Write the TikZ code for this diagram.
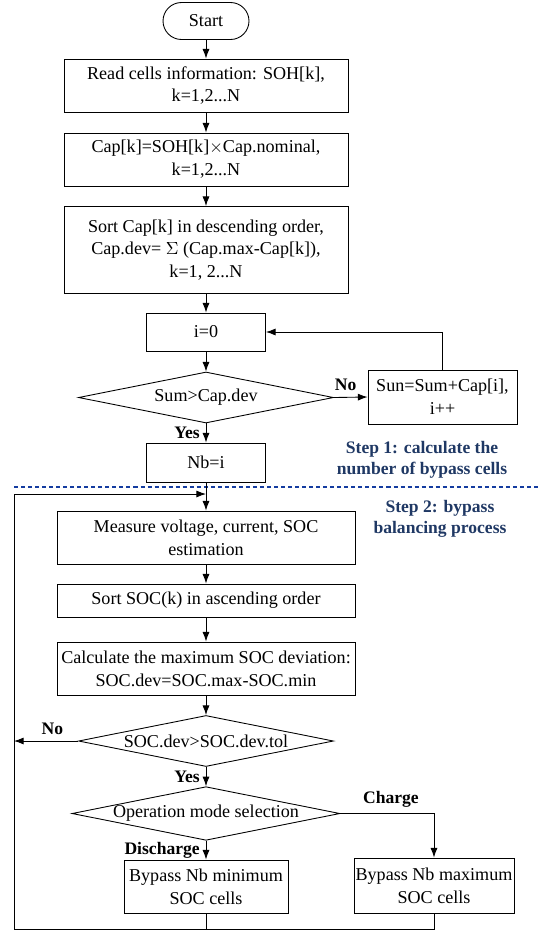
\documentclass[tikz,border=0pt]{standalone}
\usepackage{fontspec}
\setmainfont{Liberation Serif}
\usetikzlibrary{positioning,calc,shapes.geometric,arrows.meta}
\definecolor{stepblue}{RGB}{31,56,100}
\definecolor{dashblue}{RGB}{20,60,160}
\tikzset{
 proc/.style={draw,rectangle,inner sep=0pt,align=center,minimum width=5.68cm,minimum height=1.06cm},
 cond/.style={draw,diamond,aspect=5,inner sep=0pt,minimum width=5.1cm,minimum height=1.02cm},
 lab/.style={font=\bfseries},
 >={Latex[length=5.5pt,width=4pt]},
}
\begin{document}
\begin{tikzpicture}[x=0.02cm,y=-0.02cm,line width=0.5pt,font=\fontsize{10.3}{13}\selectfont]
\useasboundingbox (0,0) rectangle (548,934);
%step 1
\node[draw,rounded corners=0.37cm,minimum width=1.72cm,minimum height=0.74cm,inner sep=0pt] (start) at (206,21) {Start};
\node[proc] (read) at (206,85.5) {Read cells information: SOH[k],\\k=1,2...N};
\node[proc] (cap) at (206,159.5) {Cap[k]=SOH[k]$\times$Cap.nominal,\\k=1,2...N};
\node[proc,minimum height=1.74cm] (sort) at (206,250) {Sort Cap[k] in descending order,\\Cap.dev= $\Sigma$ (Cap.max-Cap[k]),\\k=1, 2...N};
\node[proc,minimum width=2.38cm,minimum height=0.76cm] (init) at (206,332) {i=0};
\node[cond] (sum) at (206,397.5) {Sum>Cap.dev};
\node[proc,minimum width=2.98cm,minimum height=1.08cm] (sun) at (442.5,397) {Sun=Sum+Cap[i],\\i++};
\node[proc,minimum width=2.38cm,minimum height=0.78cm] (nb) at (206,462.5) {Nb=i};
%step 2
\node[proc,minimum width=5.96cm] (meas) at (206,537.5) {Measure voltage, current, SOC\\estimation};
\node[proc,minimum width=5.96cm,minimum height=0.66cm] (sortsoc) at (206,600.5) {Sort SOC(k) in ascending order};
\node[proc,minimum width=5.96cm] (calc) at (206,668.5) {Calculate the maximum SOC deviation:\\SOC.dev=SOC.max-SOC.min};
\node[cond] (dev) at (206,741) {SOC.dev>SOC.dev.tol};
\node[cond] (mode) at (206,813.5) {Operation mode selection};
\node[proc,minimum width=3.28cm] (bmin) at (206,886.5) {Bypass Nb minimum\\SOC cells};
\node[proc,minimum width=3.2cm,minimum height=1.1cm] (bmax) at (434,885.5) {Bypass Nb maximum\\SOC cells};
%text
\node[lab,text=stepblue,align=center] (step1) at (422,460) {Step 1: calculate the\\number of bypass cells};
\node[lab,text=stepblue,align=center] (step2) at (440,519) {Step 2: bypass\\balancing process};
\draw[dashblue,line width=1.1pt,dash pattern=on 2.3pt off 1.7pt] (14,487) -- (540,487);
%loop coordinates
\coordinate (lb) at (14,929);
\coordinate (lt) at (14,494);
\coordinate (jn) at (206,494);
%arrows
\draw[->] (start) -- (read);
\draw[->] (read) -- (cap);
\draw[->] (cap) -- (sort);
\draw[->] (sort) -- (init);
\draw[->] (init) -- (sum);
\draw[->] (sum.east) -- (sun.west) node[lab,above,pos=0.35] {No};
\draw[->] (sun.north) |- (init.east);
\draw[->] (sum.south) -- (nb.north) node[lab,left,midway] {Yes};
\draw[->] (nb) -- (meas);
\draw[->] (meas) -- (sortsoc);
\draw[->] (sortsoc) -- (calc);
\draw[->] (calc) -- (dev);
\draw[->] (dev.west) -- (dev.west -| lb) node[lab,above,pos=0.4] {No};
\draw[->] (dev.south) -- (mode.north) node[lab,left,midway] {Yes};
\draw[->] (mode.east) -| (bmax.north) node[lab,above,pos=0.27] {Charge};
\draw[->] (mode.south) -- (bmin.north) node[lab,left,midway] {Discharge};
\draw[->] (bmax.south) |- (lb) -- (lt) -- (jn);
\draw (bmin.south) -- (bmin.south |- lb);
\end{tikzpicture}
\end{document}
